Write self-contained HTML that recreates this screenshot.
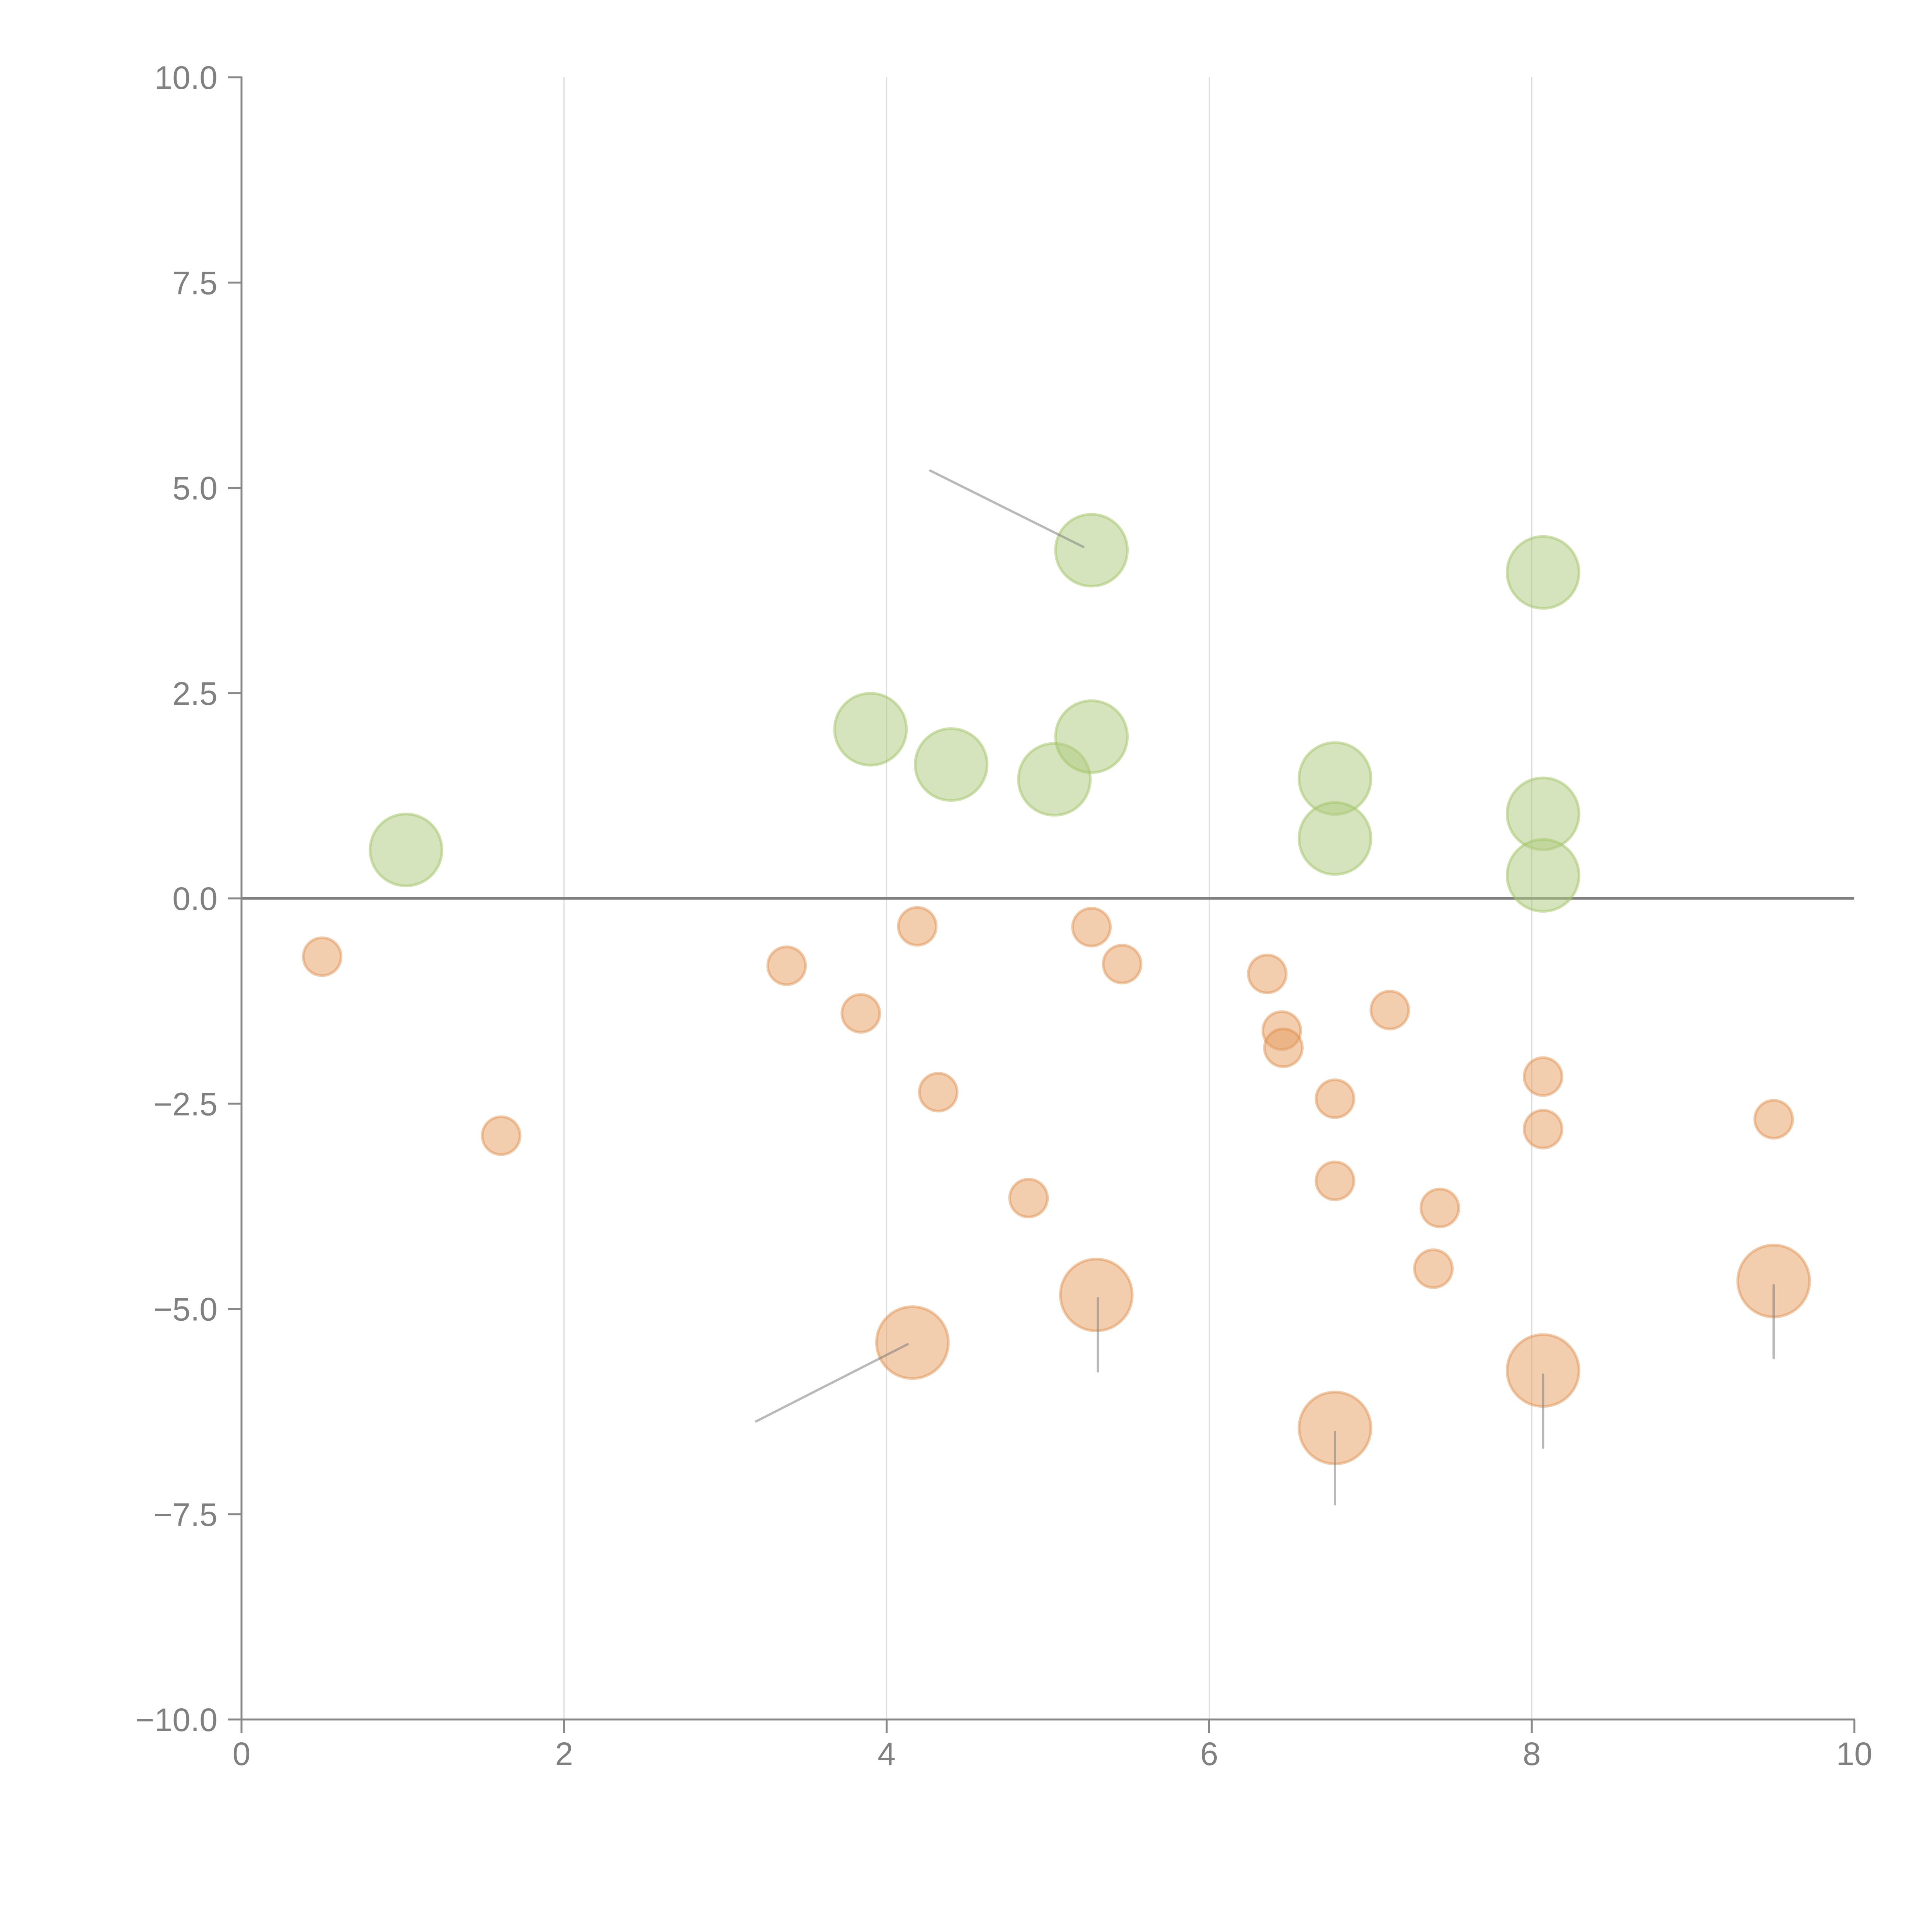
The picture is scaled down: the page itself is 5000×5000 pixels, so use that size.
<!DOCTYPE html>
<html><head><meta charset="utf-8"><style>
html,body{margin:0;padding:0;background:#fff;}
svg{display:block;font-family:"Liberation Sans",Arial,sans-serif;}
</style></head>
<body>
<svg id="chart" width="5000" height="5000" viewBox="0 0 5000 5000" xmlns="http://www.w3.org/2000/svg">
<rect x="0" y="0" width="5000" height="5000" fill="#fff"/>
<g id="grid"></g>
<g id="axes"></g>
<g id="marks"></g>
</svg>
<script>
const xTicks = [0, 2, 4, 6, 8, 10];
const yTicks = [10, 7.5, 5, 2.5, 0, -2.5, -5, -7.5, -10];
const yTickLabels = ["10.0", "7.5", "5.0", "2.5", "0.0", "\u22122.5", "\u22125.0", "\u22127.5", "\u221210.0"];
const greenX = [1.02, 3.90, 4.40, 5.04, 5.27, 5.27, 6.78, 6.78, 8.07, 8.07, 8.07];
const greenY = [0.59, 2.06, 1.63, 1.45, 4.24, 1.97, 1.46, 0.73, 3.97, 1.03, 0.28];
const smallX = [0.50, 1.61, 3.38, 3.84, 4.19, 4.32, 4.88, 5.27, 5.46, 6.36, 6.45, 6.46, 6.78, 6.78, 7.12, 7.43, 7.39, 8.07, 8.07, 9.50];
const smallY = [-0.71, -2.89, -0.82, -1.40, -0.34, -2.36, -3.65, -0.35, -0.80, -0.92, -1.61, -1.82, -2.44, -3.44, -1.36, -3.77, -4.51, -2.17, -2.81, -2.69];
const bigX = [4.16, 5.30, 6.78, 8.07, 9.50];
const bigY = [-5.41, -4.83, -6.45, -5.75, -4.66];
const leaderX1 = [5.22, 4.13, 5.31, 6.78, 8.07, 9.50];
const leaderY1 = [4.28, -5.43, -4.87, -6.50, -5.80, -4.71];
const leaderX2 = [4.27, 3.19, 5.31, 6.78, 8.07, 9.50];
const leaderY2 = [5.21, -6.37, -5.76, -7.38, -6.69, -5.60];

const NS = "http://www.w3.org/2000/svg";
const L = 625, R = 4799, T = 200, B = 4450;
function sx(v){ return L + (v - 0) / 10 * (R - L); }
function sy(v){ return B - (v + 10) / 20 * (B - T); }
function mk(tag, attrs, parent){
  const e = document.createElementNS(NS, tag);
  for (const k in attrs) e.setAttribute(k, attrs[k]);
  parent.appendChild(e);
  return e;
}
const grid = document.getElementById('grid');
const axes = document.getElementById('axes');
const marks = document.getElementById('marks');

xTicks.forEach((t) => {
  if (t > 0 && t < 10) {
    const g = mk('line', {x1: sx(t), x2: sx(t), y1: T, y2: B, stroke: '#dcdcdc', 'stroke-width': 3}, grid);
    
    
  }
});
const zl = mk('line', {x1: L, x2: R, y1: sy(0), y2: sy(0), stroke: '#808080', 'stroke-width': 7}, grid);



const ya = mk('line', {x1: L, x2: L, y1: T - 2, y2: B + 2, stroke: '#888', 'stroke-width': 5}, axes);


const xa = mk('line', {x1: L - 2, x2: R + 2, y1: B, y2: B, stroke: '#888', 'stroke-width': 5}, axes);



yTicks.forEach((t, i) => {
  const tk = mk('line', {x1: L - 35, x2: L, y1: sy(t), y2: sy(t), stroke: '#888', 'stroke-width': 5}, axes);
  
  
  const tx = mk('text', {x: L - 62, y: sy(t) + 30, 'text-anchor': 'end', 'font-size': 84, fill: '#808080'}, axes);
  tx.textContent = yTickLabels[i];
  
  
});
xTicks.forEach((t) => {
  const tk = mk('line', {x1: sx(t), x2: sx(t), y1: B, y2: B + 35, stroke: '#888', 'stroke-width': 5}, axes);
  
  
  const tx = mk('text', {x: sx(t), y: B + 118, 'text-anchor': 'middle', 'font-size': 84, fill: '#808080'}, axes);
  tx.textContent = String(t);
  
  
});

greenX.forEach((v, i) => {
  const c = mk('circle', {cx: sx(v), cy: sy(greenY[i]), r: 93, fill: 'rgba(176,204,128,0.52)', stroke: 'rgba(160,196,100,0.5)', 'stroke-width': 7}, marks);
  
  
});
smallX.forEach((v, i) => {
  const c = mk('circle', {cx: sx(v), cy: sy(smallY[i]), r: 49, fill: 'rgba(230,160,100,0.52)', stroke: 'rgba(222,140,70,0.45)', 'stroke-width': 7}, marks);
  
  
});
bigX.forEach((v, i) => {
  const c = mk('circle', {cx: sx(v), cy: sy(bigY[i]), r: 93, fill: 'rgba(230,160,100,0.52)', stroke: 'rgba(222,140,70,0.45)', 'stroke-width': 7}, marks);
  
  
});
leaderX1.forEach((v, i) => {
  const l = mk('line', {x1: sx(v), y1: sy(leaderY1[i]), x2: sx(leaderX2[i]), y2: sy(leaderY2[i]), stroke: 'rgba(128,128,128,0.55)', 'stroke-width': 6, 'stroke-linecap': 'round'}, marks);
  
  
});
</script>
</body></html>
